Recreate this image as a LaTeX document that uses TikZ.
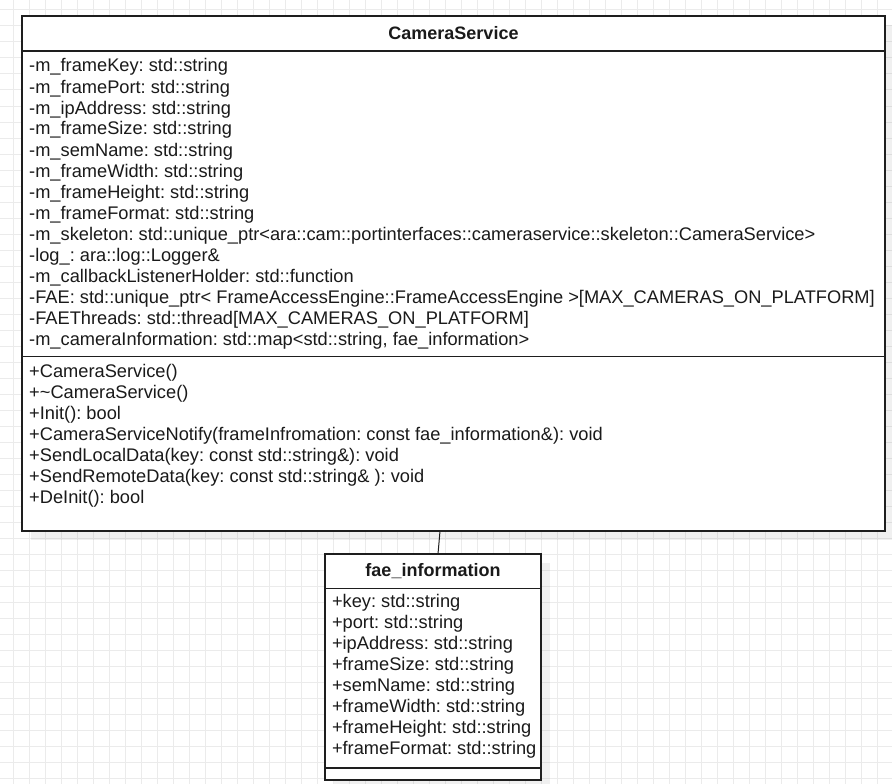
\documentclass[tikz,border=0pt]{standalone}
\usepackage{fontspec}
\setmainfont{Liberation Sans}
\usetikzlibrary{calc}
\definecolor{gridc}{HTML}{EBEBEB}
\definecolor{inkc}{HTML}{1A1A1A}
\definecolor{framec}{HTML}{1E1E1E}
\frenchspacing
\begin{document}
\begin{tikzpicture}[x=1pt,y=-1pt,
  gridline/.style={draw=gridc,line width=1pt},
  umlbox/.style={draw=framec,fill=white,line width=1.3pt,rectangle,inner sep=0pt,outer sep=0pt,anchor=north west},
  boxshadow/.style={fill=black,fill opacity=0.06,draw=none},
  divider/.style={draw=framec,line width=1.3pt},
  member/.style={anchor=base west,inner sep=0pt,text=inkc,font=\fontsize{18.25}{21}\selectfont},
  classname/.style={anchor=base,inner sep=0pt,text=inkc,font=\fontsize{18}{21}\selectfont\bfseries},
  link/.style={draw=framec,line width=1pt}]
  % canvas and background grid
  \fill[white] (0,0) rectangle (892,784);
  \useasboundingbox (0,0) rectangle (892,784);
  \foreach \k in {0,...,54} {\draw[gridline] ({13.3+16*\k},0) -- ({13.3+16*\k},784);}
  \foreach \k in {0,...,48} {\draw[gridline] (0,{10+16*\k}) -- (892,{10+16*\k});}

  % drop shadows
  \fill[boxshadow] (31,25) rectangle (894,540);
  \fill[boxshadow] (334,563) rectangle (550,789);

  % class CameraService
  \node[umlbox,minimum width=863pt,minimum height=515pt] (cs) at (22,16) {};
  \draw[divider] ($(cs.north west)+(0,35)$) -- ($(cs.north east)+(0,35)$);
  \draw[divider] ($(cs.north west)+(0,340.5)$) -- ($(cs.north east)+(0,340.5)$);
  \node[classname] (csname) at (453.5,40) {CameraService};
  \foreach \t [count=\i] in {
    -m\_frameKey: std::string,
    -m\_framePort: std::string,
    -m\_ipAddress: std::string,
    -m\_frameSize: std::string,
    -m\_semName: std::string,
    -m\_frameWidth: std::string,
    -m\_frameHeight: std::string,
    -m\_frameFormat: std::string,
    -m\_skeleton: std::unique\_ptr<ara::cam::portinterfaces::cameraservice::skeleton::CameraService>,
    -log\_: ara::log::Logger\&,
    -m\_callbackListenerHolder: std::function,
    -FAE: std::unique\_ptr< FrameAccessEngine::FrameAccessEngine >[MAX\_CAMERAS\_ON\_PLATFORM],
    -FAEThreads: std::thread[MAX\_CAMERAS\_ON\_PLATFORM],
    {-m\_cameraInformation: std::map<std::string, fae\_information>}}
    {\node[member] (csattr\i) at (29,{72+21*(\i-1)}) {\t};}
  \foreach \t [count=\i] in {
    +CameraService(),
    +\textasciitilde CameraService(),
    +Init(): bool,
    +CameraServiceNotify(frameInfromation: const fae\_information\&): void,
    +SendLocalData(key: const std::string\&): void,
    +SendRemoteData(key: const std::string\& ): void,
    +DeInit(): bool}
    {\node[member] (csop\i) at (29,{377.3+21*(\i-1)}) {\t};}

  % class fae_information
  \node[umlbox,minimum width=216pt,minimum height=226pt] (fae) at (325,554) {};
  \draw[divider] ($(fae.north west)+(0,34.5)$) -- ($(fae.north east)+(0,34.5)$);
  \draw[divider] ($(fae.north west)+(0,214)$) -- ($(fae.north east)+(0,214)$);
  \node[classname] (faename) at (433,576.7) {fae\_information};
  \foreach \t [count=\i] in {
    +key: std::string,
    +port: std::string,
    +ipAddress: std::string,
    +frameSize: std::string,
    +semName: std::string,
    +frameWidth: std::string,
    +frameHeight: std::string,
    +frameFormat: std::string}
    {\node[member] (faeattr\i) at (331.8,{607.5+21*(\i-1)}) {\t};}

  % association
  \draw[link] ($(cs.south west)+(418,0)$) -- ($(fae.north west)+(113,0)$);
\end{tikzpicture}
\end{document}
